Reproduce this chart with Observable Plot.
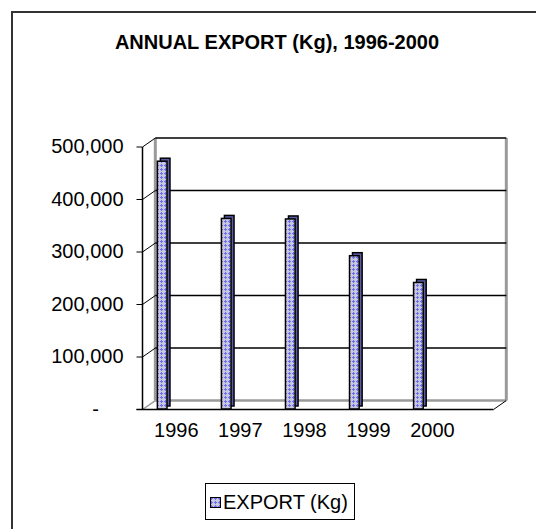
<!DOCTYPE html>
<html>
<head>
<meta charset="utf-8">
<script src="https://cdn.jsdelivr.net/npm/d3@7"></script>
<script src="https://cdn.jsdelivr.net/npm/@observablehq/plot@0.6"></script>
<style>
  html, body { margin: 0; padding: 0; background: #fff; }
  #wrap { position: relative; width: 536px; height: 529px; overflow: hidden; font-family: "Liberation Sans", Arial, sans-serif; }
  #frame { position: absolute; left: 11px; top: 11px; width: 700px; height: 700px; border-top: 2px solid #333; border-left: 2px solid #333; }
  #title { position: absolute; left: 0; top: 30px; width: 554px; text-align: center; font-weight: bold; font-size: 20px; line-height: 24px; color: #000; }
  #chart { position: absolute; left: 0; top: 0; }
  #legend { position: absolute; left: 205px; top: 483px; width: 150px; height: 37px; border: 1px solid #000; box-sizing: border-box; background: #fff; }
  #legend svg { position: absolute; left: 4px; top: 13px; }
  #legend span { position: absolute; left: 17px; top: 6px; font-size: 20px; line-height: 24px; color: #000; white-space: nowrap; }
</style>
</head>
<body>
<div id="wrap">
  <div id="frame"></div>
  <div id="title">ANNUAL EXPORT (Kg), 1996-2000</div>
  <div id="chart"></div>
  <div id="legend"><svg width="11" height="11"><rect x="0.5" y="0.5" width="10" height="10" fill="url(#pat)" stroke="#000"/></svg><span>EXPORT (Kg)</span></div>
</div>
<script>
const years = ["1996", "1997", "1998", "1999", "2000"];
const exportKg = [472000, 363000, 362000, 292000, 241000];
const yTicks = [0, 100000, 200000, 300000, 400000, 500000];

const data = years.map((year, i) => ({i, year, value: exportKg[i]}));

// 3D box geometry in data units
const xL = -0.34, xR = 5.14;      // front floor extent
const DX = 0.2;                   // depth in x (category units)
const DY = 17000;                 // depth in y (value units)
const TICK = 6 / 64;
const yMax = 500000;

const fmt = d3.format(",");

const chart = Plot.plot({
  width: 536,
  height: 529,
  marginLeft: 142,
  marginRight: 43,
  marginTop: 146.5,
  marginBottom: 120,
  x: {type: "linear", domain: [xL, xR], axis: null},
  y: {domain: [0, yMax], axis: null},
  style: {fontFamily: "'Liberation Sans', Arial, sans-serif", fontSize: "20px", background: "transparent", overflow: "visible", color: "#000"},
  marks: [
    // back wall edges (grey)
    Plot.link([0], {x1: xL + DX, y1: DY, x2: xR + DX, y2: DY, stroke: "#9a9a9a", strokeWidth: 2.5}),
    Plot.link([0], {x1: xL + DX, y1: DY, x2: xL + DX, y2: yMax + DY, stroke: "#9a9a9a", strokeWidth: 3}),
    Plot.link([0], {x1: xR + DX, y1: DY, x2: xR + DX, y2: yMax + DY, stroke: "#9a9a9a", strokeWidth: 3}),
    // gridlines on back wall
    Plot.link(yTicks.filter(v => v > 0), {x1: xL + DX, y1: v => v + DY, x2: xR + DX, y2: v => v + DY, stroke: "#000", strokeWidth: 1.5}),
    // side wall diagonals
    Plot.link(yTicks.filter(v => v > 0), {x1: xL, y1: v => v, x2: xL + DX, y2: v => v + DY, stroke: "#000", strokeWidth: 1}),
    Plot.link([0], {x1: xL, y1: 0, x2: xL + DX, y2: DY, stroke: "#9a9a9a", strokeWidth: 1.5}),
    // front value axis line
    Plot.link([0], {x1: xL, y1: 0, x2: xL, y2: yMax, stroke: "#000", strokeWidth: 1.5}),
    // tick marks
    Plot.link(yTicks, {x1: xL - TICK, y1: v => v, x2: xL, y2: v => v, stroke: "#000", strokeWidth: 1}),
    // floor front edge and right diagonal
    Plot.link([0], {x1: xL - TICK, y1: 0, x2: xR, y2: 0, stroke: "#000", strokeWidth: 1.5}),
    Plot.link([0], {x1: xR, y1: 0, x2: xR + DX, y2: DY, stroke: "#000", strokeWidth: 1}),
    // bars: back (side + top) then front face
    Plot.rectY(data, {x1: d => d.i - 0.1, x2: d => d.i + 0.05, y: "value", dx: 3, dy: -3, fill: "#5c5ca8", stroke: "#000", strokeWidth: 1.5}),
    Plot.rectY(data, {x1: d => d.i - 0.1, x2: d => d.i + 0.05, y: "value", fill: "url(#pat)", stroke: "#000", strokeWidth: 1.5}),
    // value labels
    Plot.text(yTicks.filter(v => v > 0), {x: xL, y: v => v, text: v => fmt(v), dx: -19, textAnchor: "end", fontSize: 20, fill: "#000"}),
    Plot.text([0], {x: xL, y: 0, text: () => "-", dx: -47, textAnchor: "middle", fontSize: 20, fill: "#000"}),
    // category labels
    Plot.text(data, {x: "i", y: 0, text: "year", dx: 12, dy: 21, fontSize: 20, fill: "#000"})
  ]
});

// pattern fill for the bars
const NS = "http://www.w3.org/2000/svg";
function makeDefs() {
  const defs = document.createElementNS(NS, "defs");
  const pat = document.createElementNS(NS, "pattern");
  pat.setAttribute("id", "pat");
  pat.setAttribute("patternUnits", "userSpaceOnUse");
  pat.setAttribute("width", "4");
  pat.setAttribute("height", "4");
  const parts = [
    [0, 0, 4, 4, "#c8c8dc"],
    [0, 1, 3, 1, "#6e6ef2"],
    [1, 0, 1, 3, "#6e6ef2"]
  ];
  for (const [x, y, w, h, c] of parts) {
    const r = document.createElementNS(NS, "rect");
    r.setAttribute("x", x); r.setAttribute("y", y);
    r.setAttribute("width", w); r.setAttribute("height", h);
    r.setAttribute("fill", c);
    pat.appendChild(r);
  }
  defs.appendChild(pat);
  return defs;
}
chart.insertBefore(makeDefs(), chart.firstChild);
document.getElementById("chart").appendChild(chart);
</script>
</body>
</html>
